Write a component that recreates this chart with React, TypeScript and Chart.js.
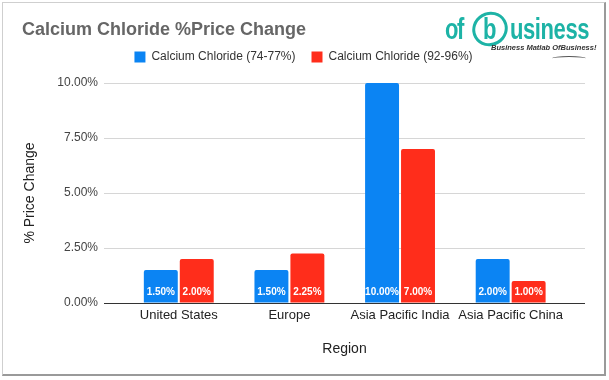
import React, { useEffect, useRef } from 'react';
import { Chart, registerables } from 'chart.js';

Chart.register(...registerables);

const regions = ['United States', 'Europe', 'Asia Pacific India', 'Asia Pacific China'];
const seriesNames = ['Calcium Chloride (74-77%)', 'Calcium Chloride (92-96%)'];
const grade7477 = [1.5, 1.5, 10.0, 2.0];
const grade9296 = [2.0, 2.25, 7.0, 1.0];
const yTickStep = 2.5;
const yMax = 10;
const seriesColors = ['#0B84F3', '#FF2D1B'];

const FONT = '"Liberation Sans", Arial, Helvetica, sans-serif';

const barLabels = {
  id: 'barLabels',
  afterDatasetsDraw(chart: any) {
    const ctx = chart.ctx;
    ctx.save();
    ctx.font = 'bold 10px ' + FONT;
    ctx.fillStyle = '#ffffff';
    ctx.textAlign = 'center';
    ctx.textBaseline = 'middle';
    chart.data.datasets.forEach((ds: any, di: number) => {
      const meta = chart.getDatasetMeta(di);
      meta.data.forEach((el: any, i: number) => {
        const v = ds.data[i].y as number;
        ctx.fillText(v.toFixed(2) + '%', el.x, el.base - 10);
      });
    });
    ctx.restore();
  },
};

function Logo() {
  const teal = '#1DB3A6';
  const word: React.CSSProperties = {
    position: 'absolute',
    top: 21,
    fontFamily: FONT,
    fontSize: 22,
    fontWeight: 700,
    color: teal,
    lineHeight: '26px',
    transform: 'scaleY(1.3)',
    transformOrigin: 'left bottom',
    whiteSpace: 'nowrap',
  };
  return (
    <div style={{ position: 'absolute', left: 0, top: 0, width: 609, height: 80, pointerEvents: 'none' }}>
      <span style={{ ...word, left: 445, letterSpacing: -1.5 }}>of</span>
      <div style={{ position: 'absolute', left: 472, top: 12, width: 36, height: 34, border: `3px solid ${teal}`, borderRadius: '50%', transform: 'rotate(-30deg)', boxSizing: 'border-box' }} />
      <span style={{ ...word, left: 483 }}>b</span>
      <span style={{ ...word, left: 510, letterSpacing: -0.4 }}>usiness</span>
      <span style={{ position: 'absolute', left: 491, top: 43, fontFamily: FONT, fontSize: 7.5, fontWeight: 700, fontStyle: 'italic', color: '#333', whiteSpace: 'nowrap', lineHeight: '9px' }}>Business Matlab OfBusiness!</span>
      <div style={{ position: 'absolute', left: 552, top: 56, width: 34, height: 4, borderTop: '1px solid #555', borderRadius: '50% 50% 0 0' }} />
    </div>
  );
}

export default function App() {
  const canvasRef = useRef<HTMLCanvasElement | null>(null);

  useEffect(() => {
    if (!canvasRef.current) return;
    Chart.defaults.font.family = FONT;
    const chart = new Chart(canvasRef.current, {
      type: 'bar',
      data: {
        datasets: [
          {
            label: seriesNames[0],
            data: grade7477.map((v, i) => ({ x: i, y: v })),
            backgroundColor: seriesColors[0],
            borderRadius: 2,
            categoryPercentage: 0.65,
            barPercentage: 0.944,
          },
          {
            label: seriesNames[1],
            data: grade9296.map((v, i) => ({ x: i, y: v })),
            backgroundColor: seriesColors[1],
            borderRadius: 2,
            categoryPercentage: 0.65,
            barPercentage: 0.944,
          },
        ],
      },
      options: {
        animation: false,
        responsive: true,
        maintainAspectRatio: false,
        layout: { padding: { left: 22, right: 24, top: 4, bottom: 18.6 } },
        plugins: {
          title: {
            display: true,
            text: 'Calcium Chloride %Price Change',
            align: 'start',
            color: '#666666',
            font: { size: 18, weight: 'bold' },
            padding: { top: 15.2, bottom: -5.8 },
          },
          legend: {
            display: true,
            position: 'top',
            labels: {
              boxWidth: 11,
              boxHeight: 11,
              padding: 16,
              color: '#333333',
              font: { size: 12 },
            },
          },
          subtitle: {
            display: true,
            text: '',
            weight: 100,
            font: { size: 1 },
            padding: { top: 0, bottom: 8.8 },
          } as any,
          tooltip: { enabled: false },
        },
        scales: {
          x: {
            type: 'linear',
            offset: false,
            min: -0.676,
            max: 3.672,
            grid: { display: false, offset: false },
            border: { display: false },
            ticks: {
              stepSize: 1,
              includeBounds: false,
              autoSkip: false,
              maxRotation: 0,
              color: '#222222',
              font: { size: 13 },
              padding: -3,
              callback: (v: any) => (Number.isInteger(v) && regions[v] ? regions[v] : ''),
            },
            title: {
              display: true,
              text: 'Region',
              color: '#222222',
              font: { size: 14 },
              padding: { top: 0, bottom: 4 },
            },
            afterFit: (s: any) => {
              s.height = 58.4;
            },
          },
          y: {
            min: 0,
            max: yMax,
            grid: {
              drawTicks: false,
              color: (c: any) => (c.tick && c.tick.value === 0 ? '#333333' : '#d6d6d6'),
            },
            border: { display: false },
            ticks: {
              stepSize: yTickStep,
              color: '#444444',
              font: { size: 12 },
              padding: 6,
              callback: (v: any) => Number(v).toFixed(2) + '%',
            },
            title: {
              display: true,
              text: '% Price Change',
              color: '#222222',
              font: { size: 14 },
              padding: { top: 0, bottom: 0 },
            },
            afterFit: (s: any) => {
              s.width = 82;
            },
          },
        },
      } as any,
      plugins: [barLabels],
    });
    return () => chart.destroy();
  }, []);

  return (
    <div style={{ position: 'absolute', left: 0, top: 0, width: 609, height: 380, background: '#ffffff', overflow: 'hidden' }}>
      <div style={{ position: 'absolute', left: 0, top: 0, width: 609, height: 380 }}>
        <canvas ref={canvasRef} />
      </div>
      <Logo />
      <div
        style={{
          position: 'absolute',
          left: 2,
          top: 2,
          width: 601,
          height: 371,
          borderTop: '1px solid #cfcfcf',
          borderLeft: '1px solid #cfcfcf',
          borderRight: '2px solid #9a9a9a',
          borderBottom: '2px solid #9a9a9a',
          pointerEvents: 'none',
        }}
      />
    </div>
  );
}
